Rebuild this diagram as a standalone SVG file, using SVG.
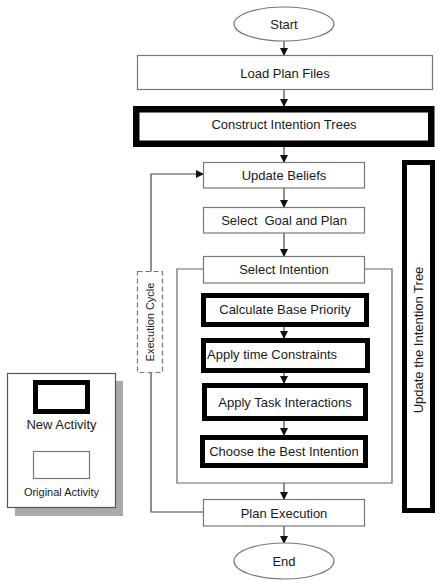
<svg xmlns="http://www.w3.org/2000/svg" width="441" height="585" viewBox="0 0 441 585">
<defs>
<marker id="arr" markerUnits="userSpaceOnUse" markerWidth="8" markerHeight="8" refX="7" refY="4" orient="auto">
<path d="M0,0 L8,4 L0,8 Z" fill="#111"/>
</marker>
<style>
.orig{fill:#fff;stroke:#777;stroke-width:1.2}
.new{fill:#fff;stroke:#000;stroke-width:5}
.t{font-family:"Liberation Sans",Arial,sans-serif;font-size:13px;fill:#1a1a1a;text-anchor:middle;dominant-baseline:central}
.s{font-size:11px}
.ln{fill:none;stroke:#666;stroke-width:1.2}
.ar{fill:none;stroke:#444;stroke-width:1.2;marker-end:url(#arr)}
</style>
</defs>
<rect width="441" height="585" fill="#fff"/>

<g id="connectors">
<line class="ar" x1="284" y1="41" x2="284" y2="55"/>
<line class="ar" x1="284" y1="90" x2="284" y2="106"/>
<line class="ar" x1="284" y1="147" x2="284" y2="162"/>
<line class="ar" x1="284" y1="188" x2="284" y2="207"/>
<line class="ar" x1="284" y1="233" x2="284" y2="256"/>
<line class="ar" x1="284" y1="327" x2="284" y2="338"/>
<line class="ar" x1="284" y1="373" x2="284" y2="383"/>
<line class="ar" x1="284" y1="421" x2="284" y2="435"/>
<line class="ar" x1="284" y1="483" x2="284" y2="499"/>
<line class="ar" x1="284" y1="526" x2="284" y2="543"/>
<polyline class="ar" points="203,512 151,512 151,174 203,174"/>
<polyline class="ln" points="203,269 177,269 177,483 392,483 392,269 365,269"/>
</g>

<g id="start">
<ellipse cx="284" cy="24" rx="50" ry="17" class="orig"/>
<text class="t" x="284" y="24">Start</text>
</g>
<g id="load-plan-files">
<rect class="orig" x="137.5" y="55.5" width="295" height="34"/>
<text class="t" x="285" y="73">Load Plan Files</text>
</g>
<g id="construct-intention-trees">
<rect class="new" x="136.25" y="109.25" width="295" height="34.5" style="stroke-width:6.5"/>
<text class="t" x="284" y="124">Construct Intention Trees</text>
</g>
<g id="update-beliefs">
<rect class="orig" x="203.5" y="162.5" width="161" height="25.5"/>
<text class="t" x="284" y="175">Update Beliefs</text>
</g>
<g id="select-goal-plan">
<rect class="orig" x="203.5" y="207.5" width="161" height="25.5"/>
<text class="t" x="284" y="220" xml:space="preserve">Select  Goal and Plan</text>
</g>
<g id="select-intention">
<rect class="orig" x="203.5" y="256.5" width="161" height="26.5"/>
<text class="t" x="284" y="269">Select Intention</text>
</g>
<g id="calculate-base-priority">
<rect class="new" x="203.5" y="295.5" width="163" height="29"/>
<text class="t" x="285" y="309">Calculate Base Priority</text>
</g>
<g id="apply-time-constraints">
<rect class="new" x="203.5" y="340.5" width="164" height="30"/>
<text class="t" x="207" y="354" style="text-anchor:start">Apply time Constraints</text>
</g>
<g id="apply-task-interactions">
<rect class="new" x="204.5" y="385.5" width="161" height="33"/>
<text class="t" x="285" y="402">Apply Task Interactions</text>
</g>
<g id="choose-best-intention">
<rect class="new" x="202.5" y="437.5" width="163" height="28"/>
<text class="t" x="284" y="451">Choose the Best Intention</text>
</g>
<g id="plan-execution">
<rect class="orig" x="203.5" y="499.5" width="161" height="26.5"/>
<text class="t" x="284" y="513">Plan Execution</text>
</g>
<g id="end">
<ellipse cx="284" cy="561" rx="50" ry="18" class="orig"/>
<text class="t" x="284" y="561">End</text>
</g>

<g id="execution-cycle">
<rect x="137.5" y="271.5" width="25" height="101" fill="#fff" stroke="#777" stroke-width="1.2" stroke-dasharray="5,3"/>
<text class="t s" x="150" y="322" transform="rotate(-90 150 322)">Execution Cycle</text>
</g>

<g id="update-intention-tree">
<rect class="new" x="404.5" y="162.5" width="28" height="348"/>
<text class="t" x="418.5" y="340" transform="rotate(-90 418.5 340)">Update the Intention Tree</text>
</g>

<g id="legend">
<rect x="15" y="381" width="108" height="135" fill="#aaa"/>
<rect x="7.5" y="373.5" width="108" height="134" fill="#fff" stroke="#555" stroke-width="1.2"/>
<rect class="new" x="35.5" y="382.5" width="52" height="29"/>
<text class="t" x="61.5" y="424">New Activity</text>
<rect class="orig" x="33.5" y="451.5" width="56" height="27"/>
<text class="t s" x="61.5" y="492">Original Activity</text>
</g>
</svg>
